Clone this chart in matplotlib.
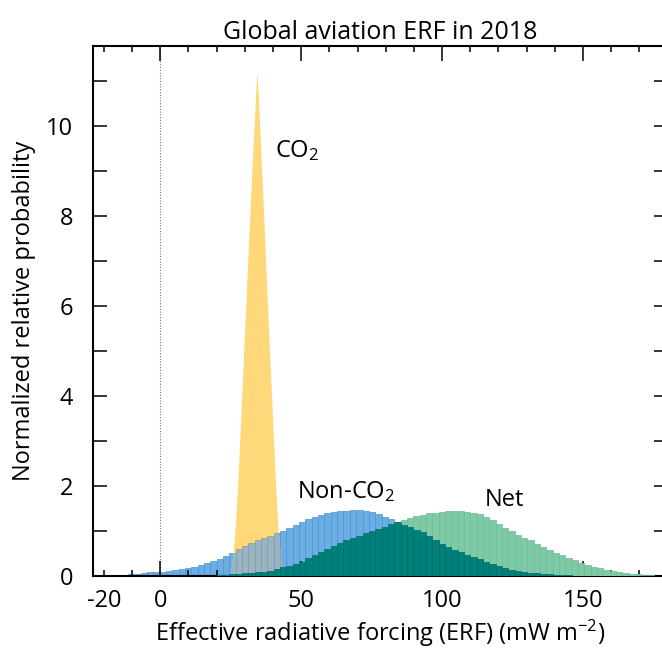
import numpy as np
import matplotlib
matplotlib.use("Agg")
import matplotlib.pyplot as plt
from matplotlib.ticker import MultipleLocator, FixedLocator

# ============================================================
# DATA
# ============================================================

BIN_START = -14.875
BIN_WIDTH = 2.25

NON_CO2 = [
    0.01, 0.03, 0.04, 0.05, 0.06, 0.08, 0.09, 0.10, 0.12, 0.14,
    0.16, 0.18, 0.21, 0.25, 0.29, 0.33, 0.38, 0.45, 0.52, 0.60,
    0.67, 0.74, 0.79, 0.84, 0.89, 0.95, 1.01, 1.07, 1.13, 1.21,
    1.27, 1.32, 1.36, 1.40, 1.42, 1.44, 1.45, 1.46, 1.46, 1.45,
    1.42, 1.38, 1.32, 1.26, 1.19, 1.14, 1.09, 1.03, 0.97, 0.89,
    0.80, 0.72, 0.65, 0.58, 0.53, 0.47, 0.42, 0.37, 0.31, 0.26,
    0.22, 0.18, 0.14, 0.11, 0.09, 0.07, 0.06, 0.05, 0.04, 0.03,
    0.02, 0.015, 0.01, 0.01, 0.005, 0.0, 0.0, 0.0, 0.0, 0.0,
    0.0, 0.0, 0.0, 0.0, 0.0, 0.0,
]

NET = [
    0.0, 0.0, 0.0, 0.0, 0.0, 0.0, 0.0, 0.0, 0.0, 0.0,
    0.0, 0.0, 0.0, 0.0, 0.0, 0.0, 0.02, 0.03, 0.04, 0.05,
    0.06, 0.075, 0.09, 0.10, 0.12, 0.15, 0.19, 0.22, 0.26, 0.32,
    0.39, 0.46, 0.54, 0.60, 0.66, 0.73, 0.79, 0.85, 0.90, 0.95,
    1.00, 1.05, 1.10, 1.15, 1.19, 1.24, 1.29, 1.33, 1.36, 1.39,
    1.41, 1.43, 1.44, 1.44, 1.44, 1.43, 1.41, 1.37, 1.31, 1.24,
    1.15, 1.07, 0.99, 0.92, 0.85, 0.79, 0.72, 0.65, 0.58, 0.52,
    0.46, 0.40, 0.35, 0.30, 0.25, 0.21, 0.17, 0.14, 0.11, 0.09,
    0.07, 0.055, 0.04, 0.03, 0.02, 0.01,
]

CO2_X = [25, 26, 27, 28, 29, 30, 31, 32, 33, 34, 34.5,
         35, 36, 37, 38, 39, 40, 41, 42, 43, 44]
CO2_Y = [0.0, 0.5, 1.3, 2.5, 3.9, 5.3, 6.7, 8.1, 9.4, 10.7, 11.2,
         10.6, 9.2, 7.8, 6.3, 4.9, 3.5, 2.1, 1.0, 0.3, 0.0]

X_TICKS = [-20, 0, 50, 100, 150]
Y_TICKS = [0, 2, 4, 6, 8, 10]

# ============================================================
# STYLE
# ============================================================

FONT = "Open Sans"
plt.rcParams["font.family"] = [FONT, "DejaVu Sans"]
plt.rcParams["mathtext.fontset"] = "custom"
plt.rcParams["mathtext.rm"] = FONT
plt.rcParams["mathtext.default"] = "regular"
plt.rcParams["axes.unicode_minus"] = False

FS = 17

YELLOW = "#ffd87a"
BLUE = "#6aaee4"
BLUE_EDGE = "#4d93d4"
MIX = "#9ab4c2"
GREEN = "#7ecaa6"
GREEN_EDGE = "#6dbb97"
TEAL = "#00807a"
TEAL_EDGE = "#006b66"

# ============================================================
# PLOT
# ============================================================

fig = plt.figure(figsize=(6.62, 6.5), dpi=100)
ax = fig.add_axes([0.140, 0.1138, 0.8684, 0.8158])

centers = BIN_START + BIN_WIDTH * np.arange(len(NON_CO2))
non_co2 = np.array(NON_CO2)
net = np.array(NET)

ax.axvline(0, color="#777777", linestyle=(0, (1, 1.5)), linewidth=0.8, zorder=0)

ax.bar(centers, non_co2, width=BIN_WIDTH, color=BLUE,
       edgecolor=BLUE_EDGE, linewidth=0.5, zorder=1)

co2_poly = ax.fill(CO2_X, CO2_Y, color=YELLOW, linewidth=0, zorder=2)[0]

mixed = ax.bar(centers, non_co2, width=BIN_WIDTH, color=MIX,
               edgecolor="#7f9cae", linewidth=0.5, zorder=3)
for patch in mixed:
    patch.set_clip_path(co2_poly)

ax.bar(centers, net, width=BIN_WIDTH, color=GREEN,
       edgecolor=GREEN_EDGE, linewidth=0.5, zorder=4)
ax.bar(centers, np.minimum(non_co2, net), width=BIN_WIDTH, color=TEAL,
       edgecolor=TEAL_EDGE, linewidth=0.5, zorder=5)

ax.text(40.8, 9.46, "CO$_2$", fontsize=FS, va="center", ha="left")
ax.text(48.5, 1.87, "Non-CO$_2$", fontsize=FS, va="center", ha="left")
ax.text(115.2, 1.69, "Net", fontsize=FS, va="center", ha="left")

ax.set_xlim(-24, 180)
ax.set_ylim(0, 11.78)

ax.xaxis.set_major_locator(FixedLocator(X_TICKS))
ax.xaxis.set_minor_locator(FixedLocator(
    [v for v in range(-20, 180, 10) if v not in X_TICKS]))
ax.yaxis.set_major_locator(FixedLocator(Y_TICKS))
ax.yaxis.set_minor_locator(MultipleLocator(1))

ax.tick_params(axis="x", which="major", direction="in", length=11, width=1.1,
               top=True, bottom=True, labelsize=FS, pad=9)
ax.tick_params(axis="x", which="minor", direction="in", length=4, width=1.1,
               top=True, bottom=True)
ax.tick_params(axis="y", which="both", direction="in", length=10, width=1.1,
               left=True, right=True, labelsize=FS, pad=14)

# -20 carries a short tick like the minor ones
for line in (ax.xaxis.get_major_ticks()[0].tick1line,
             ax.xaxis.get_major_ticks()[0].tick2line):
    line.set_markersize(4)

for spine in ax.spines.values():
    spine.set_linewidth(1.5)

ax.set_xlabel("Effective radiative forcing (ERF) (mW m$^{-2}$)", fontsize=FS, labelpad=4)
ax.set_ylabel("Normalized relative probability", fontsize=FS, labelpad=7)
ax.set_title("Global aviation ERF in 2018", fontsize=18, pad=5)

fig.savefig("out.png", dpi=100)
